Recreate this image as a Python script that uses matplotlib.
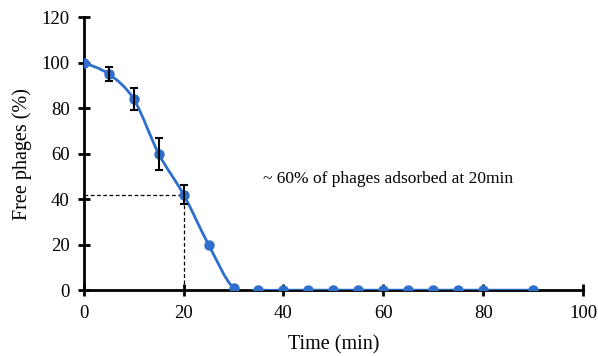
import matplotlib
matplotlib.use("Agg")
import matplotlib.pyplot as plt
from matplotlib.path import Path
from matplotlib.patches import PathPatch
import numpy as np

time_min = [0, 5, 10, 15, 20, 25, 30, 35, 40, 45, 50, 55, 60, 65, 70, 75, 80, 90]
free_phages = [100, 95, 84, 60, 42, 20, 1, 0, 0, 0, 0, 0, 0, 0, 0, 0, 0, 0]
err_x = [5, 10, 15, 20]
err_y = [95, 84, 60, 42]
err_v = [3, 5, 7, 4]
x_ticks = [0, 20, 40, 60, 80, 100]
y_ticks = [0, 20, 40, 60, 80, 100, 120]

plt.rcParams['font.family'] = ['Liberation Serif', 'DejaVu Serif']
blue = '#2E6FCB'

fig = plt.figure(figsize=(5.98, 3.56), dpi=100)
ax = fig.add_axes([0.140, 0.185, 0.835, 0.767])

# Smoothed line (Excel-style Bezier through data points)
x = np.array(time_min, float)
y = np.array(free_phages, float)
verts = [(x[0], y[0])]
codes = [Path.MOVETO]
n = len(x)
for i in range(n - 1):
    p0 = np.array([x[max(i - 1, 0)], y[max(i - 1, 0)]])
    p1 = np.array([x[i], y[i]])
    p2 = np.array([x[i + 1], y[i + 1]])
    p3 = np.array([x[min(i + 2, n - 1)], y[min(i + 2, n - 1)]])
    c1 = p1 + (p2 - p0) / 6
    c2 = p2 - (p3 - p1) / 6
    verts += [tuple(c1), tuple(c2), tuple(p2)]
    codes += [Path.CURVE4] * 3
ax.add_patch(PathPatch(Path(verts, codes), fill=False, edgecolor=blue, lw=2, zorder=3))

ax.plot(time_min, free_phages, 'o', color=blue, ms=6.5, zorder=4)
ax.errorbar(err_x, err_y, yerr=err_v, fmt='none', ecolor='black', elinewidth=1.5,
            capsize=3, capthick=1.5, zorder=5)

# Dashed guide lines
ax.plot([0, 20], [42, 42], ls=(0, (3, 2)), color='black', lw=0.9, zorder=2)
ax.plot([20, 20], [0, 42], ls=(0, (3, 2)), color='black', lw=0.9, zorder=2)

ax.text(36, 49, '~ 60% of phages adsorbed at 20min', fontsize=12.5, va='center', ha='left')

ax.set_xlim(0, 100)
ax.set_ylim(0, 120)
ax.set_xticks(x_ticks)
ax.set_yticks(y_ticks)
for s in ['top', 'right']:
    ax.spines[s].set_visible(False)
for s in ['left', 'bottom']:
    ax.spines[s].set_linewidth(2)
ax.tick_params(direction='inout', length=8, width=2, labelsize=13.5)
ax.tick_params(axis='x', pad=7)
ax.tick_params(axis='y', pad=6)
ax.set_xlabel('Time (min)', fontsize=14.5, labelpad=9)
ax.set_ylabel('Free phages (%)', fontsize=14.5, labelpad=7)
for sp in ax.spines.values():
    sp.set_clip_on(False)

fig.savefig('out.png', dpi=100)
